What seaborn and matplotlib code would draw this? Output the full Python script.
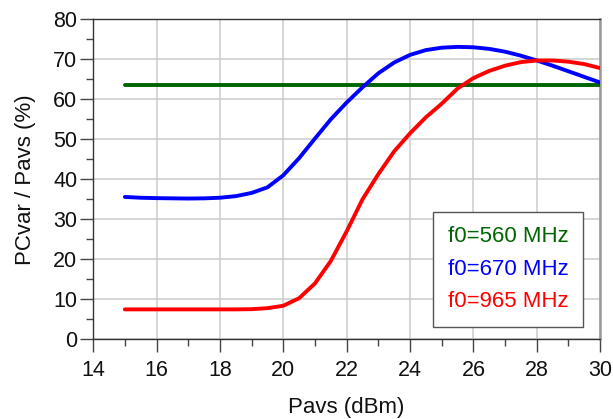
import numpy as np
import pandas as pd
import matplotlib
matplotlib.use("Agg")
import matplotlib.pyplot as plt
import seaborn as sns
from matplotlib.ticker import MultipleLocator

pavs = [15, 15.5, 16, 16.5, 17, 17.5, 18, 18.5, 19, 19.5, 20, 20.5, 21, 21.5, 22,
        22.5, 23, 23.5, 24, 24.5, 25, 25.5, 26, 26.5, 27, 27.5, 28, 28.5, 29, 29.5, 30]
eff_560 = [63.5] * 31
eff_670 = [35.6, 35.4, 35.3, 35.25, 35.2, 35.25, 35.4, 35.8, 36.6, 38.0, 41.0, 45.3,
           50.2, 55.0, 59.2, 63.0, 66.5, 69.2, 71.1, 72.3, 72.9, 73.1, 73.0, 72.6,
           71.9, 70.9, 69.7, 68.4, 67.0, 65.6, 64.2]
eff_965 = [7.5, 7.5, 7.5, 7.5, 7.5, 7.5, 7.5, 7.5, 7.55, 7.8, 8.4, 10.3, 14.0, 19.6,
           27.0, 35.0, 41.3, 47.0, 51.5, 55.5, 58.9, 62.7, 65.3, 67.1, 68.4, 69.3,
           69.7, 69.7, 69.4, 68.8, 67.8]
labels = ["f0=560 MHz", "f0=670 MHz", "f0=965 MHz"]
colors = ["#006400", "#0000ff", "#ff0000"]

df = pd.concat([
    pd.DataFrame({"Pavs": pavs, "eff": vals, "series": lab})
    for vals, lab in zip([eff_560, eff_670, eff_965], labels)
])

sns.set_theme(style="white")
plt.rcParams["font.family"] = ["Liberation Sans", "DejaVu Sans"]

fig = plt.figure(figsize=(6.13, 4.19), dpi=100)
ax = fig.add_axes([0.152, 0.190, 0.827, 0.764])

sns.lineplot(data=df, x="Pavs", y="eff", hue="series", palette=colors,
             linewidth=2.8, ax=ax, legend=False, zorder=3)

ax.set_xlim(14, 30)
ax.set_ylim(0, 80)
ax.xaxis.set_major_locator(MultipleLocator(2))
ax.xaxis.set_minor_locator(MultipleLocator(1))
ax.yaxis.set_major_locator(MultipleLocator(10))
ax.yaxis.set_minor_locator(MultipleLocator(5))
ax.grid(True, which="major", color="#cccccc", linewidth=1.1, zorder=0)
ax.set_axisbelow(True)

ax.tick_params(axis="both", which="major", direction="out", length=9.5, width=1.0,
               color="#444444", labelsize=15.5, labelcolor="#111111",
               bottom=True, left=True)
ax.tick_params(axis="x", which="major", pad=5)
ax.tick_params(axis="y", which="major", pad=2)
ax.tick_params(axis="both", which="minor", direction="out", length=5, width=1.0,
               color="#444444", bottom=True, left=True)

for side in ["left", "bottom", "top"]:
    ax.spines[side].set_color("#333333")
    ax.spines[side].set_linewidth(1.0)
ax.spines["right"].set_color("#999999")
ax.spines["right"].set_linewidth(1.8)

ax.set_xlabel("Pavs (dBm)", fontsize=16, color="#111111", labelpad=12)
ax.set_ylabel("PCvar / Pavs (%)", fontsize=16, color="#111111", labelpad=12)

handles = [plt.Line2D([], [], color=c, linewidth=0) for c in colors]
leg = ax.legend(handles, labels, loc="lower right", bbox_to_anchor=(0.966, 0.039),
                handlelength=0, handletextpad=0, labelcolor=colors, fontsize=16,
                frameon=True, fancybox=False, edgecolor="#555555", framealpha=1,
                borderpad=0.65, labelspacing=0.52, borderaxespad=0)
leg.get_frame().set_linewidth(1.0)
leg.set_zorder(5)

fig.savefig("out.png", dpi=100)
